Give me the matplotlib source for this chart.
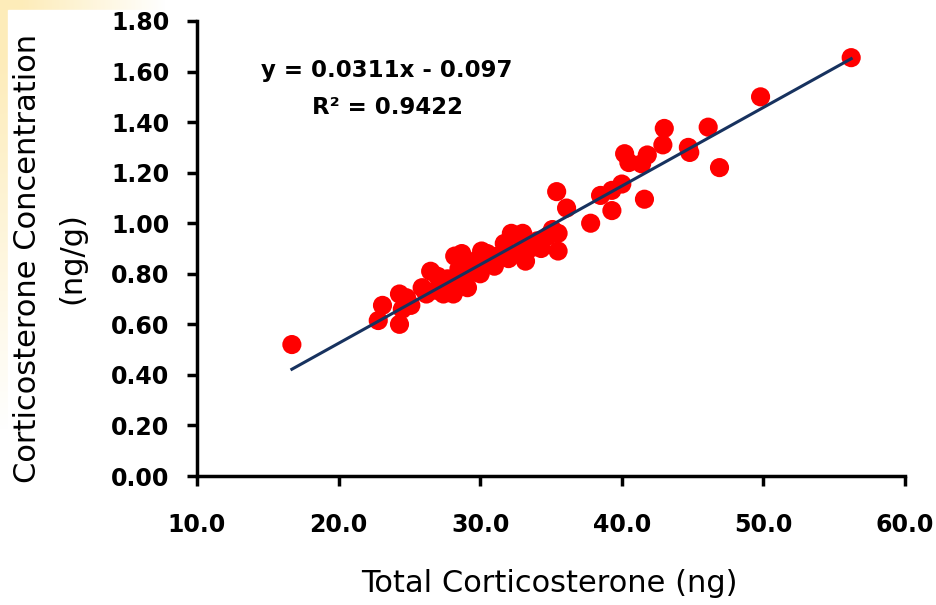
import numpy as np
import matplotlib
matplotlib.use("Agg")
import matplotlib.pyplot as plt
from matplotlib.patches import Rectangle

# total corticosterone (ng) vs concentration (ng/g)
total_ng = [16.7, 22.8, 23.1, 24.3, 24.3, 24.8, 25.1, 24.5, 25.9, 26.5,
            26.9, 27.4, 27.7, 28.2, 28.5, 28.1, 28.7, 28.8, 29.2, 29.6,
            30.1, 30.0, 30.7, 31.2, 31.7, 32.2, 32.0, 32.5, 32.9, 33.2,
            33.5, 33.0, 34.3, 34.8, 35.1, 35.5, 35.5, 35.4, 36.1, 37.8,
            38.5, 39.3, 39.3, 40.0, 40.2, 40.5, 41.4, 41.8, 41.6, 42.9,
            43.0, 44.7, 44.8, 46.1, 46.9, 49.8, 56.2, 27.0, 29.1, 31.0,
            30.5, 26.2, 34.0]
conc_ngg = [0.52, 0.615, 0.675, 0.60, 0.72, 0.705, 0.675, 0.66, 0.745, 0.81,
            0.735, 0.72, 0.78, 0.87, 0.82, 0.72, 0.88, 0.76, 0.80, 0.85,
            0.89, 0.80, 0.84, 0.87, 0.92, 0.96, 0.86, 0.88, 0.94, 0.85,
            0.90, 0.96, 0.90, 0.95, 0.975, 0.96, 0.89, 1.125, 1.06, 1.00,
            1.11, 1.13, 1.05, 1.155, 1.275, 1.24, 1.235, 1.27, 1.095, 1.31,
            1.375, 1.30, 1.28, 1.38, 1.22, 1.50, 1.655, 0.79, 0.745, 0.83,
            0.88, 0.72, 0.93]

# trendline shown on the chart
SLOPE = 0.0311
INTERCEPT = -0.097
R2 = 0.9422

x_ticks = [10, 20, 30, 40, 50, 60]
y_ticks = [0.0, 0.2, 0.4, 0.6, 0.8, 1.0, 1.2, 1.4, 1.6, 1.8]

W, H = 936, 605
FONT = "DejaVu Sans"
fig = plt.figure(figsize=(W / 100, H / 100), dpi=100)

# yellowish slide background in the top left corner
bg = fig.add_axes([0, 0, 1, 1], zorder=-10)
bg.set_axis_off()
yy, xx = np.mgrid[0:H, 0:W]
d = np.sqrt((xx / 165.0) ** 2 + (yy / 430.0) ** 2)
rgba = np.ones((H, W, 4))
rgba[..., 0] = 253 / 255
rgba[..., 1] = 236 / 255
rgba[..., 2] = 185 / 255
rgba[..., 3] = np.clip(1.15 - 1.15 * d, 0, 1)
bg.imshow(rgba, extent=[0, W, H, 0], aspect="auto")
bg.add_patch(Rectangle((8, 10), W, H, color="white", zorder=2))
bg.set_xlim(0, W)
bg.set_ylim(H, 0)

ax = fig.add_axes([197 / W, 1 - 476 / H, (905 - 197) / W, (476 - 21) / H])
ax.set_facecolor("none")

ax.scatter(total_ng, conc_ngg, s=190, color="#FF0000", edgecolors="none",
           zorder=3, clip_on=False)

x_fit = np.array([min(total_ng), max(total_ng)])
ax.plot(x_fit, SLOPE * x_fit + INTERCEPT, color="#17325F", lw=2.2, zorder=4)

ax.set_xlim(10, 60)
ax.set_ylim(0, 1.8)
ax.set_xticks(x_ticks)
ax.set_yticks(y_ticks)
ax.set_xticklabels([f"{v:.1f}" for v in x_ticks])
ax.set_yticklabels([f"{v:.2f}" for v in y_ticks])

for side in ["top", "right"]:
    ax.spines[side].set_visible(False)
for side in ["left", "bottom"]:
    ax.spines[side].set_linewidth(2.5)
    ax.spines[side].set_color("black")

ax.tick_params(axis="both", width=2.5, length=7, color="black")
ax.tick_params(axis="x", direction="out", pad=20)
ax.tick_params(axis="y", direction="out", pad=13)
for lbl in ax.get_xticklabels() + ax.get_yticklabels():
    lbl.set_family(FONT)
    lbl.set_fontweight("bold")
    lbl.set_fontsize(17)

fig.text(549 / W, 1 - 583 / H, "Total Corticosterone (ng)", family=FONT,
         fontsize=22, ha="center", va="center")
fig.text(28 / W, 1 - 258 / H, "Corticosterone Concentration", family=FONT,
         fontsize=22, rotation=90, ha="center", va="center")
fig.text(72 / W, 1 - 258 / H, "(ng/g)", family=FONT,
         fontsize=22, rotation=90, ha="center", va="center")

sign = "-" if INTERCEPT < 0 else "+"
fig.text(387 / W, 1 - 70 / H, f"y = {SLOPE}x {sign} {abs(INTERCEPT)}",
         family=FONT, fontweight="bold", fontsize=16.5, ha="center", va="center")
fig.text(387 / W, 1 - 107 / H, f"R² = {R2}",
         family=FONT, fontweight="bold", fontsize=16.5, ha="center", va="center")

fig.savefig("out.png", dpi=100)
